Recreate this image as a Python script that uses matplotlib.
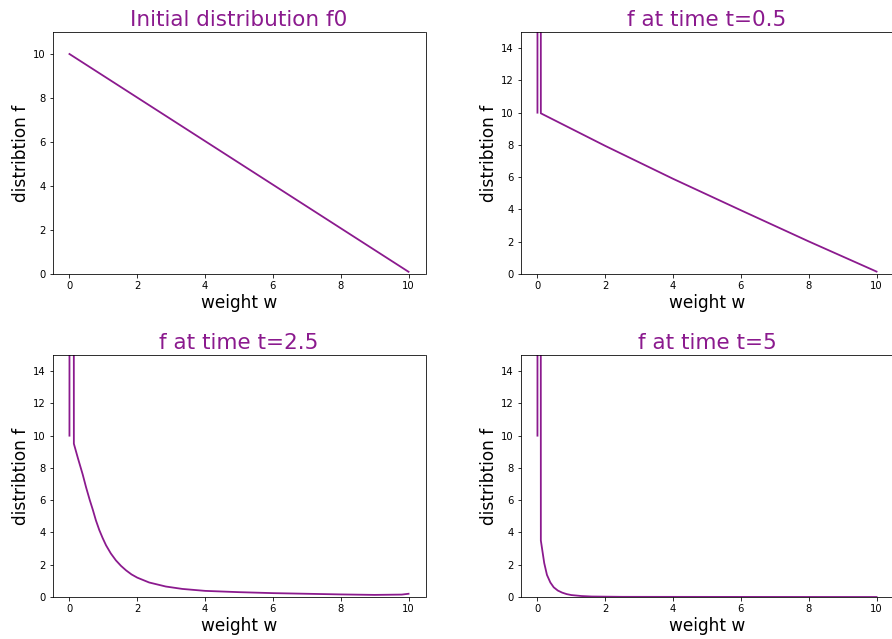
import matplotlib
matplotlib.use("Agg")
import matplotlib.pyplot as plt

# 初始分布 f0
w_f0 = [0, 10]
f_f0 = [10, 0.1]

# t = 0.5
w_t05 = [0, 0.05, 0.1, 2, 4, 6, 8, 10]
f_t05 = [10, 400, 9.96, 7.94, 5.9, 3.95, 2.02, 0.15]

# t = 2.5
w_t25 = [0, 0.05, 0.13, 0.25, 0.39, 0.49, 0.6, 0.69, 0.78, 0.88, 0.98, 1.08,
         1.22, 1.37, 1.52, 1.67, 1.83, 2.0, 2.35, 2.84, 3.33, 4, 5, 6, 7, 8,
         9, 9.8, 10]
f_t25 = [10, 400, 9.5, 8.6, 7.6, 6.8, 6.0, 5.4, 4.75, 4.15, 3.65, 3.2,
         2.7, 2.27, 1.93, 1.65, 1.4, 1.2, 0.9, 0.65, 0.5, 0.38, 0.3, 0.24,
         0.2, 0.16, 0.13, 0.15, 0.2]

# t = 5
w_t5 = [0, 0.05, 0.1, 0.2, 0.28, 0.38, 0.48, 0.6, 0.73, 0.86, 1.0, 1.3, 1.6,
        2.5, 10]
f_t5 = [10, 400, 3.5, 2.1, 1.37, 0.9, 0.6, 0.4, 0.27, 0.18, 0.12, 0.06, 0.03,
        0.01, 0.0]

titles = ["Initial distribution f0", "f at time t=0.5", "f at time t=2.5", "f at time t=5"]
series = [(w_f0, f_f0), (w_t05, f_t05), (w_t25, f_t25), (w_t5, f_t5)]
ylims = [(0, 11), (0, 15), (0, 15), (0, 15)]

W, H = 892, 639
fig = plt.figure(figsize=(W / 72, H / 72), dpi=72)

# 轴的像素位置 (left, top)
boxes = [(52.5, 32), (520.5, 32), (52.5, 355), (520.5, 355)]
aw, ah = 373, 242

color = "#8b1a8e"
for (x0, top), (w, f), title, yl in zip(boxes, series, titles, ylims):
    ax = fig.add_axes([x0 / W, (H - top - ah) / H, aw / W, ah / H])
    ax.plot(w, f, color=color, linewidth=1.8)
    ax.set_xlim(-0.5, 10.5)
    ax.set_ylim(*yl)
    ax.set_title(title, color=color, fontsize=21.5)
    ax.set_xlabel("weight w", fontsize=17, labelpad=3)
    ax.set_ylabel("distribtion f", fontsize=17, labelpad=3)
    ax.tick_params(labelsize=10)

fig.savefig("out.png", dpi=72)
